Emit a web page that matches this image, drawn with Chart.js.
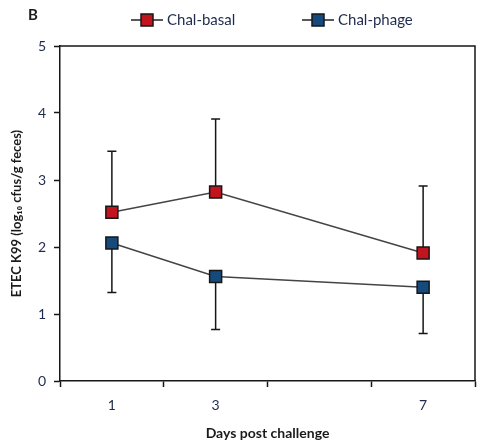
<!DOCTYPE html>
<html>
<head>
<meta charset="utf-8">
<script src="https://cdn.jsdelivr.net/npm/chart.js@4/dist/chart.umd.min.js"></script>
<style>
  html, body { margin: 0; padding: 0; background: #fff; }
  #wrap { width: 485px; height: 443px; }
</style>
</head>
<body>
<div id="wrap"><canvas id="grafico"></canvas></div>
<script>
// days post challenge
const dias = [1, 3, 7];
const nomes = ['Chal-basal', 'Chal-phage'];
const basal = [2.52, 2.82, 1.91];
const basalSup = [3.43, 3.91, 2.91];   // upper error bar ends
const phage = [2.06, 1.56, 1.40];
const phageInf = [1.32, 0.77, 0.71];   // lower error bar ends
const xTickMarks = [0, 2, 4, 6, 8];

const corTexto = '#1e2b4f';
const fonte = 'Lato, "Open Sans", sans-serif';

function pontos(vals) {
  return dias.map((d, i) => ({ x: d, y: vals[i] }));
}

// error bars, drawn under the markers
const barrasErro = {
  id: 'barrasErro',
  beforeDatasetsDraw(chart) {
    const ctx = chart.ctx;
    const xs = chart.scales.x, ys = chart.scales.y;
    ctx.save();
    ctx.strokeStyle = '#161616';
    ctx.lineWidth = 1.5;
    chart.data.datasets.forEach(ds => {
      ds.data.forEach((p, i) => {
        const x = xs.getPixelForValue(p.x);
        const y0 = ys.getPixelForValue(p.y);
        const y1 = ys.getPixelForValue(ds.erro[i]);
        ctx.beginPath();
        ctx.moveTo(x, y0);
        ctx.lineTo(x, y1);
        ctx.moveTo(x - 4.5, y1);
        ctx.lineTo(x + 4.5, y1);
        ctx.stroke();
      });
    });
    ctx.restore();
  }
};

// frame, panel letter and legend
const extras = {
  id: 'extras',
  afterDraw(chart) {
    const ctx = chart.ctx;
    const a = chart.chartArea;
    ctx.save();
    ctx.strokeStyle = '#161616';
    ctx.lineWidth = 1.5;
    ctx.beginPath();
    ctx.moveTo(a.left, a.top);
    ctx.lineTo(a.right, a.top);
    ctx.lineTo(a.right, a.bottom);
    ctx.stroke();

    ctx.fillStyle = '#1a1a1a';
    ctx.font = 'bold 15px ' + fonte;
    ctx.textBaseline = 'middle';
    ctx.fillText('B', 28, 15);

    // legend
    const posX = [147, 318];
    chart.data.datasets.forEach((ds, i) => {
      const cx = posX[i], cy = 20;
      ctx.strokeStyle = '#222';
      ctx.lineWidth = 1.5;
      ctx.beginPath();
      ctx.moveTo(cx - 16, cy);
      ctx.lineTo(cx + 16, cy);
      ctx.stroke();
      ctx.fillStyle = ds.pointBackgroundColor;
      ctx.fillRect(cx - 6, cy - 6, 12, 12);
      ctx.strokeStyle = '#161616';
      ctx.strokeRect(cx - 6, cy - 6, 12, 12);
      ctx.fillStyle = corTexto;
      ctx.font = '15px ' + fonte;
      ctx.textBaseline = 'middle';
      ctx.fillText(ds.label, cx + 20, cy);
    });
    ctx.restore();
  }
};

new Chart(document.getElementById('grafico'), {
  type: 'line',
  data: {
    datasets: [
      {
        label: nomes[0],
        data: pontos(basal),
        erro: basalSup,
        borderColor: '#444',
        borderWidth: 1.5,
        pointStyle: 'rect',
        pointRadius: 8.5,
        pointHoverRadius: 8.5,
        pointBackgroundColor: '#c1141f',
        pointBorderColor: '#161616',
        pointBorderWidth: 1.5
      },
      {
        label: nomes[1],
        data: pontos(phage),
        erro: phageInf,
        borderColor: '#444',
        borderWidth: 1.5,
        pointStyle: 'rect',
        pointRadius: 8.5,
        pointHoverRadius: 8.5,
        pointBackgroundColor: '#174a7c',
        pointBorderColor: '#161616',
        pointBorderWidth: 1.5
      }
    ]
  },
  options: {
    responsive: true,
    maintainAspectRatio: false,
    animation: false,
    layout: { padding: { top: 46, right: 3, left: 0, bottom: 0 } },
    plugins: {
      legend: { display: false },
      tooltip: { enabled: false }
    },
    scales: {
      x: {
        type: 'linear',
        min: 0,
        max: 8,
        afterFit: s => { s.height = 62; },
        afterBuildTicks: s => {
          s.ticks = [0, 1, 2, 3, 4, 5, 6, 7, 8].map(v => ({ value: v }));
        },
        ticks: {
          autoSkip: false,
          maxRotation: 0,
          padding: 10,
          color: corTexto,
          font: { family: fonte, size: 14 },
          callback: v => dias.includes(v) ? String(v) : ''
        },
        grid: {
          drawOnChartArea: false,
          drawTicks: true,
          tickLength: 6,
          tickWidth: 1.5,
          tickColor: c => xTickMarks.includes(c.tick && c.tick.value) ? '#161616' : 'rgba(0,0,0,0)'
        },
        border: { color: '#161616', width: 1.5 },
        title: {
          display: true,
          text: 'Days post challenge',
          color: '#1a1a1a',
          font: { family: fonte, size: 14, weight: 'bold' },
          padding: { top: 0, bottom: 1 }
        }
      },
      y: {
        min: 0,
        max: 5,
        afterFit: s => { s.width = 60; },
        ticks: {
          stepSize: 1,
          padding: 8,
          color: corTexto,
          font: { family: fonte, size: 14 }
        },
        grid: {
          drawOnChartArea: false,
          drawTicks: true,
          tickLength: 6,
          tickWidth: 1.5,
          tickColor: '#161616'
        },
        border: { color: '#161616', width: 1.5 },
        title: {
          display: true,
          text: 'ETEC K99 (log₁₀ cfus/g feces)',
          color: '#1a1a1a',
          font: { family: fonte, size: 13, weight: 'bold' },
          padding: { top: 9, bottom: 0 }
        }
      }
    }
  },
  plugins: [barrasErro, extras]
});
</script>
</body>
</html>
